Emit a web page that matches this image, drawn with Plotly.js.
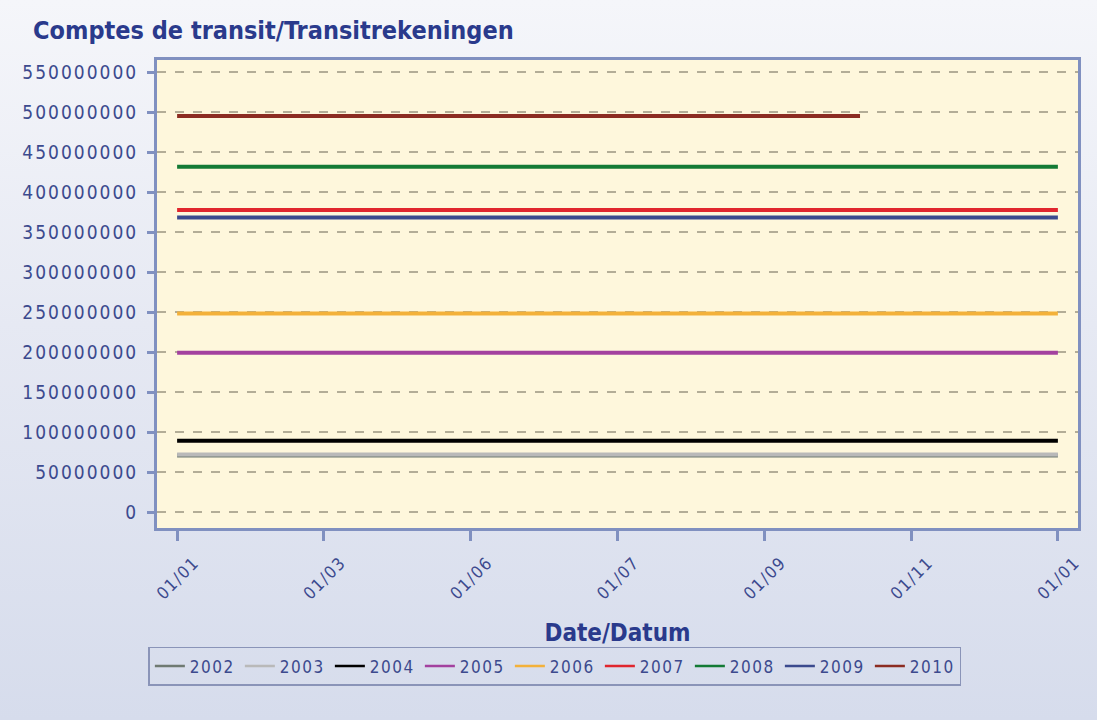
<!DOCTYPE html>
<html>
<head>
<meta charset="utf-8">
<script src="https://cdn.plot.ly/plotly-3.0.1.min.js"></script>
<style>
  html, body { margin: 0; padding: 0; }
  body {
    width: 1097px; height: 720px; overflow: hidden;
    background: linear-gradient(180deg, #f5f6fa 0%, #e6e9f3 45%, #d6dcec 100%);
  }
  #chart { width: 1097px; height: 720px; }
</style>
</head>
<body>
<div id="chart"></div>
<script>
// Series: one constant level per year, drawn over a common calendar year
const years = ["2002", "2003", "2004", "2005", "2006", "2007", "2008", "2009", "2010"]
const values = [70500000, 72000000, 89000000, 199000000, 248000000, 377500000, 431500000, 368000000, 495000000]
const startDates = ["2010-01-01", "2010-01-01", "2010-01-01", "2010-01-01", "2010-01-01", "2010-01-01", "2010-01-01", "2010-01-01", "2010-01-01"]
const endDates = ["2011-01-01", "2011-01-01", "2011-01-01", "2011-01-01", "2011-01-01", "2011-01-01", "2011-01-01", "2011-01-01", "2010-10-11"]
const colors = ["#6f7a72", "#b9b9b9", "#000000", "#a3419f", "#f3b13a", "#e0262e", "#137a35", "#3b4a8e", "#8c2c22"]

// x ticks (evenly spaced over the year) and their labels
const xTickVals = ["2010-01-01", "2010-03-02 20:00", "2010-05-02 16:00", "2010-07-02 12:00", "2010-09-01 08:00", "2010-11-01 04:00", "2011-01-01"]
const xTickText = ["01/01", "01/03", "01/06", "01/07", "01/09", "01/11", "01/01"]
const yTickVals = [0, 50000000, 100000000, 150000000, 200000000, 250000000, 300000000, 350000000, 400000000, 450000000, 500000000, 550000000]

const fontNarrow = "DejaVu Sans Condensed, Liberation Sans Narrow, Arial Narrow, sans-serif"
const navy = "#2a3a8c"
const axisBlue = "#8090c0"
const labelBlue = "#3c4a8e"

const traces = years.map((yr, i) => ({
  x: [startDates[i], endDates[i]],
  y: [values[i], values[i]],
  type: "scatter",
  mode: "lines",
  name: yr,
  line: { color: colors[i], width: 4 },
}))

const layout = {
  width: 1097,
  height: 720,
  margin: { l: 157, r: 19, t: 60, b: 192 },
  paper_bgcolor: "rgba(0,0,0,0)",
  plot_bgcolor: "#fef7dc",
  title: {
    text: "<b>Comptes de transit/Transitrekeningen</b>",
    font: { family: fontNarrow, size: 25, color: navy },
    xref: "container", x: 33 / 1097, xanchor: "left",
    yref: "container", y: 1 - 30 / 720, yanchor: "middle",
  },
  xaxis: {
    type: "date",
    range: ["2009-12-23 16:00", "2011-01-09 08:00"],
    tickvals: xTickVals,
    ticktext: xTickText,
    tickangle: -45,
    ticks: "outside",
    ticklen: 10,
    tickwidth: 3,
    tickcolor: axisBlue,
    ticklabelshift: 17,
    ticklabelstandoff: 5,
    tickfont: { family: fontNarrow, size: 17, color: labelBlue },
    showgrid: false,
    zeroline: false,
    showline: true,
    mirror: true,
    linecolor: axisBlue,
    linewidth: 3,
    title: {
      text: "<b>Date/Datum</b>",
      font: { family: fontNarrow, size: 24, color: navy },
      standoff: 28,
    },
  },
  yaxis: {
    range: [-20000000, 565000000],
    tickvals: yTickVals,
    ticktext: yTickVals.map(String),
    ticks: "outside",
    ticklen: 7,
    tickwidth: 3,
    tickcolor: axisBlue,
    ticklabelstandoff: 5,
    tickfont: { family: fontNarrow, size: 19, color: labelBlue },
    showgrid: true,
    gridcolor: "#b3ad97",
    gridwidth: 1.5,
    griddash: "dash",
    zeroline: false,
    showline: true,
    mirror: true,
    linecolor: axisBlue,
    linewidth: 3,
  },
  showlegend: true,
  legend: {
    orientation: "h",
    x: 0.432, xanchor: "center",
    y: -0.254, yanchor: "top",
    bgcolor: "rgba(0,0,0,0)",
    bordercolor: "#8a94b8",
    borderwidth: 1.5,
    itemwidth: 30,
    entrywidth: 45,
    font: { family: fontNarrow, size: 17, color: labelBlue },
  },
}

Plotly.newPlot("chart", traces, layout, { displayModeBar: false, staticPlot: true }).then(() => {
  // the reference text is widely spaced; widen tick and legend labels
  document.querySelectorAll(".xtick text, text.legendtext").forEach((t) => {
    t.style.letterSpacing = "1.5px"
  })
  document.querySelectorAll(".ytick text").forEach((t) => {
    t.style.letterSpacing = "2px"
  })
  document.querySelectorAll(".legendlines path").forEach((p) => {
    p.style.strokeWidth = "2.5px"
  })
})
</script>
</body>
</html>
